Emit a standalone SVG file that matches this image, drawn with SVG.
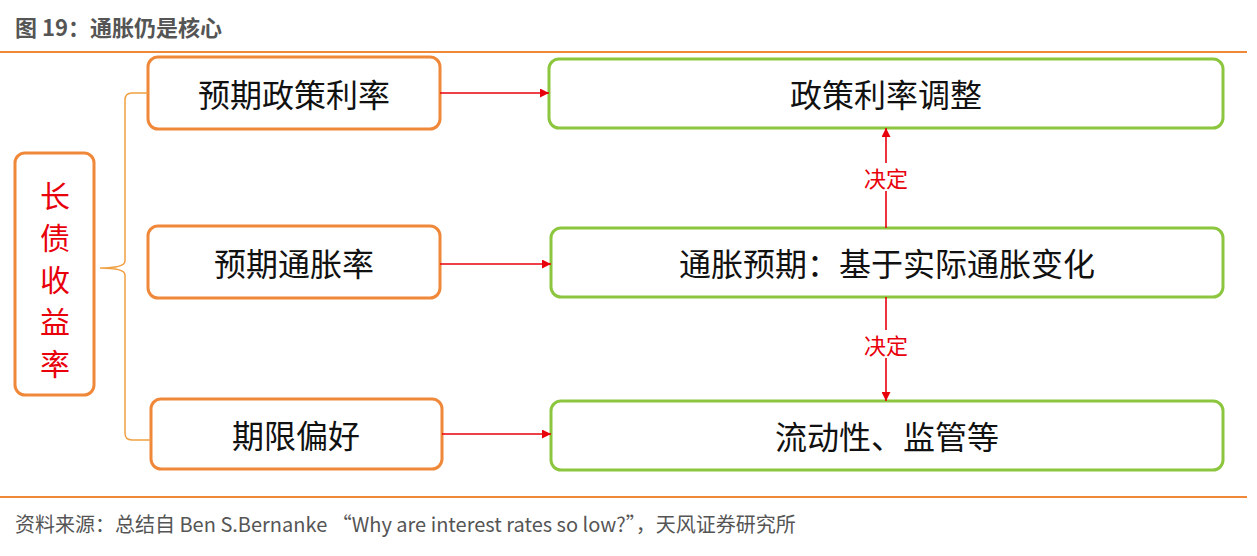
<svg xmlns="http://www.w3.org/2000/svg" width="1257" height="556" viewBox="0 0 1257 556">
<style>
text{font-family:"Noto Sans CJK SC","Liberation Sans",sans-serif}
.ob{fill:#fff;stroke:#F0883A;stroke-width:3}
.gb{fill:#fff;stroke:#8CC63E;stroke-width:3}
.t{font-size:32px;fill:#111;text-anchor:middle;dominant-baseline:central}
.rt{fill:#E8000B;font-size:30px}
.r{stroke:#E8000B;stroke-width:1.6;fill:none}
.lb{font-size:22px;fill:#E8000B;text-anchor:middle;dominant-baseline:central}
</style>
<defs><marker id="a" viewBox="0 0 10 10" refX="10" refY="5" markerWidth="9" markerHeight="9" markerUnits="userSpaceOnUse" orient="auto"><path d="M0,0L10,5L0,10z" fill="#E8000B"/></marker></defs>
<rect width="1257" height="556" fill="#fff"/>
<text x="15" y="36" font-size="22" font-weight="bold" fill="#555">图 19：通胀仍是核心</text>
<line x1="0" y1="52" x2="1247" y2="52" stroke="#F0883A" stroke-width="2"/>
<line x1="0" y1="497" x2="1247" y2="497" stroke="#F0883A" stroke-width="2"/>
<text x="15" y="532" font-size="20" fill="#555">资料来源：总结自 Ben S.Bernanke  “Why are interest rates so low?”，天风证券研究所</text>
<g id="n0"><rect class="ob" x="15" y="153" width="79" height="242" rx="10"/>
<text x="55" y="194" class="t rt">长</text>
<text x="55" y="236" class="t rt">债</text>
<text x="55" y="278" class="t rt">收</text>
<text x="55" y="320" class="t rt">益</text>
<text x="55" y="362" class="t rt">率</text></g>
<g id="n1"><rect class="ob" x="148" y="57" width="292" height="72" rx="10"/><text x="294" y="93" class="t">预期政策利率</text></g>
<g id="n2"><rect class="ob" x="148" y="226" width="292" height="72" rx="10"/><text x="294" y="262" class="t">预期通胀率</text></g>
<g id="n3"><rect class="ob" x="151" y="399" width="291" height="70" rx="10"/><text x="296" y="434" class="t">期限偏好</text></g>
<g id="n4"><rect class="gb" x="549" y="59" width="674" height="69" rx="10"/><text x="886" y="93" class="t">政策利率调整</text></g>
<g id="n5"><rect class="gb" x="551" y="228" width="672" height="69" rx="10"/><text x="887" y="262" class="t">通胀预期：基于实际通胀变化</text></g>
<g id="n6"><rect class="gb" x="551" y="401" width="672" height="69" rx="10"/><text x="887" y="435" class="t">流动性、监管等</text></g>
<g id="edges">
<path d="M148,93 H132 Q125,93 125,100 V261 Q125,268 100,268 Q125,268 125,275 V433 Q125,440 132,440 H151" fill="none" stroke="#F0A040" stroke-width="1.5"/>
<line class="r" x1="440" y1="93" x2="549" y2="93" marker-end="url(#a)"/>
<line class="r" x1="440" y1="264" x2="551" y2="264" marker-end="url(#a)"/>
<line class="r" x1="442" y1="434" x2="551" y2="434" marker-end="url(#a)"/>
<line class="r" x1="886" y1="228" x2="886" y2="128" marker-end="url(#a)"/>
<line class="r" x1="886" y1="297" x2="886" y2="401" marker-end="url(#a)"/>
<rect x="860" y="163" width="52" height="28" fill="#fff"/><text x="886" y="177" class="lb">决定</text>
<rect x="860" y="330" width="52" height="28" fill="#fff"/><text x="886" y="344" class="lb">决定</text>
</g>
</svg>
